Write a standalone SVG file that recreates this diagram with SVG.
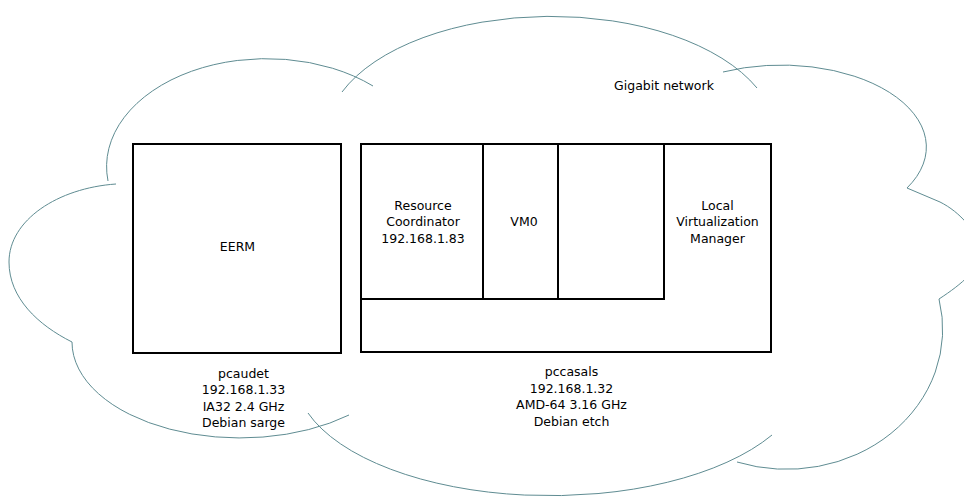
<svg xmlns="http://www.w3.org/2000/svg" width="964" height="497" viewBox="0 0 964 497">
  <style>
    .cloud { fill: none; stroke: #5f8c92; stroke-width: 1; }
    .box { fill: #ffffff; stroke: #000000; stroke-width: 2; }
    .lbl { font-family: "DejaVu Sans", "Liberation Sans", sans-serif; font-size: 12.5px; fill: #000000; text-anchor: middle; }
  </style>
  <rect width="964" height="497" fill="#ffffff"/>

  <!-- network cloud, one arc per lobe -->
  <g id="network-cloud">
    <path class="cloud" d="M116,184 C58,188 9,220 9,262 C9,298 38,325 72,342"/>
    <path class="cloud" d="M72,342 A168,96 0 0 0 349,415"/>
    <path class="cloud" d="M308,413 A255,120 0 0 0 772,435"/>
    <path class="cloud" d="M737,462 A156,140 0 0 0 939,299"/>
    <path class="cloud" d="M907,188 L940,202 C960,212 978,232 980,252 C981,268 962,284 939,299"/>
    <path class="cloud" d="M907,188 A145,82 0 0 0 723,72"/>
    <path class="cloud" d="M757,88 A225,120 0 0 0 342,92"/>
    <path class="cloud" d="M373,86 A160,108 0 0 0 108,181"/>
    <text class="lbl" x="664" y="90">Gigabit network</text>
  </g>

  <!-- host pcaudet -->
  <g id="pcaudet">
    <rect class="box" x="133" y="144" width="208" height="209"/>
    <text class="lbl" x="237.5" y="251">EERM</text>
    <text class="lbl" x="243.5" y="377.5">pcaudet</text>
    <text class="lbl" x="243.5" y="394">192.168.1.33</text>
    <text class="lbl" x="243.5" y="410.5">IA32 2.4 GHz</text>
    <text class="lbl" x="243.5" y="427">Debian sarge</text>
  </g>

  <!-- host pccasals -->
  <g id="pccasals">
    <rect class="box" x="361" y="144" width="410" height="208"/>
    <text class="lbl" x="571.5" y="376">pccasals</text>
    <text class="lbl" x="571.5" y="392.5">192.168.1.32</text>
    <text class="lbl" x="571.5" y="409">AMD-64 3.16 GHz</text>
    <text class="lbl" x="571.5" y="425.5">Debian etch</text>
  </g>

  <g id="resource-coordinator">
    <rect class="box" x="361" y="144" width="122" height="155"/>
    <text class="lbl" x="423" y="209.5">Resource</text>
    <text class="lbl" x="423" y="226">Coordinator</text>
    <text class="lbl" x="423" y="242.5">192.168.1.83</text>
  </g>

  <g id="vm0">
    <rect class="box" x="483" y="144" width="75" height="155"/>
    <text class="lbl" x="524" y="226">VM0</text>
  </g>

  <g id="vm-slot">
    <rect class="box" x="558" y="144" width="106" height="155"/>
  </g>

  <g id="local-virtualization-manager">
    <text class="lbl" x="717.5" y="209.5">Local</text>
    <text class="lbl" x="717.5" y="226">Virtualization</text>
    <text class="lbl" x="717.5" y="242.5">Manager</text>
  </g>

  <g id="connectors"/>
</svg>
